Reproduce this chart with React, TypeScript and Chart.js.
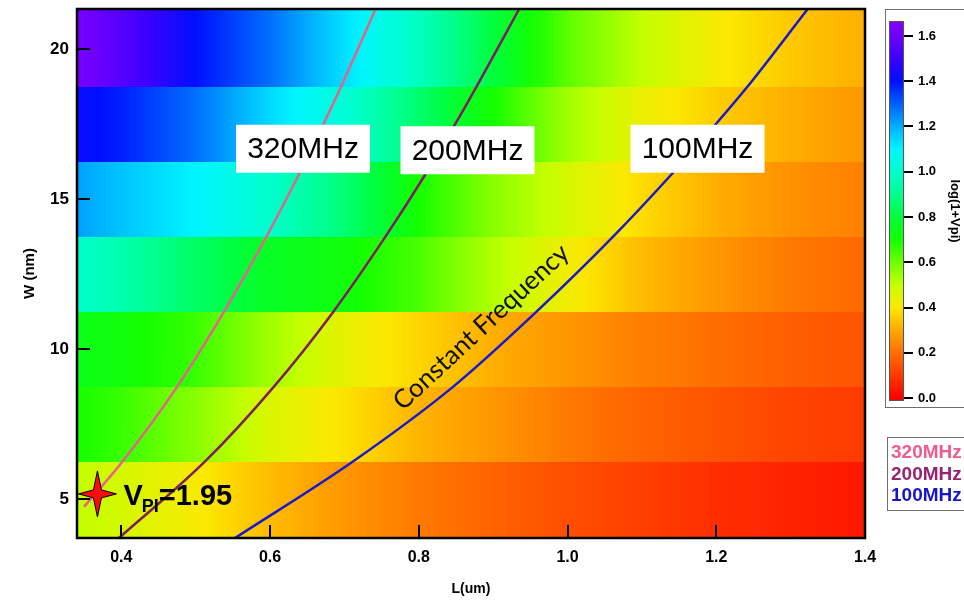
import React, { useEffect, useRef } from 'react';
import { Chart, registerables } from 'chart.js';

Chart.register(...registerables);

// ---------------- data ----------------
const L_GRID = [0.34, 0.4, 0.5, 0.6, 0.7, 0.8, 0.9, 1.0, 1.1, 1.2, 1.3, 1.4];
const W_ROWS = [20, 17.5, 15, 12.5, 10, 7.5, 5];
const VPI_W20 = [1.63, 1.55, 1.4, 1.28, 1.13, 0.98, 0.8, 0.62, 0.5, 0.41, 0.35, 0.31];
const VPI_W17_5 = [1.42, 1.38, 1.28, 1.14, 1.02, 0.86, 0.7, 0.54, 0.43, 0.36, 0.31, 0.27];
const VPI_W15 = [1.22, 1.17, 1.1, 1.0, 0.87, 0.7, 0.57, 0.47, 0.38, 0.31, 0.26, 0.23];
const VPI_W12_5 = [1.0, 0.95, 0.85, 0.76, 0.72, 0.64, 0.52, 0.42, 0.33, 0.27, 0.22, 0.19];
const VPI_W10 = [0.74, 0.72, 0.66, 0.54, 0.44, 0.37, 0.31, 0.27, 0.23, 0.2, 0.17, 0.15];
const VPI_W7_5 = [0.7, 0.66, 0.57, 0.46, 0.39, 0.32, 0.27, 0.22, 0.18, 0.15, 0.12, 0.1];
const VPI_W5 = [0.5, 0.47, 0.41, 0.33, 0.27, 0.22, 0.18, 0.14, 0.11, 0.08, 0.06, 0.04];
const VPI_ROWS = [VPI_W20, VPI_W17_5, VPI_W15, VPI_W12_5, VPI_W10, VPI_W7_5, VPI_W5];

const F320_L = [0.35, 0.402, 0.475, 0.538, 0.595, 0.639, 0.671, 0.695, 0.742];
const F320_W = [4.75, 6.27, 8.75, 11.25, 13.75, 15.84, 17.47, 18.73, 21.35];
const F200_L = [0.397, 0.513, 0.605, 0.685, 0.755, 0.809, 0.848, 0.877, 0.935];
const F200_W = [3.71, 6.27, 8.75, 11.25, 13.75, 15.84, 17.47, 18.73, 21.35];
const F100_L = [0.553, 0.712, 0.846, 0.958, 1.061, 1.14, 1.198, 1.241, 1.323];
const F100_W = [3.71, 6.27, 8.75, 11.25, 13.75, 15.84, 17.47, 18.73, 21.35];

const SERIES_LABELS = ['320MHz', '200MHz', '100MHz'];
const SERIES_L = [F320_L, F200_L, F100_L];
const SERIES_W = [F320_W, F200_W, F100_W];

const X_TICKS = [0.4, 0.6, 0.8, 1.0, 1.2, 1.4];
const Y_TICKS = [5, 10, 15, 20];
const CB_TICKS = [0, 0.2, 0.4, 0.6, 0.8, 1.0, 1.2, 1.4, 1.6];

const STAR_L = 0.368;
const STAR_W = 5.18;
const STAR_TEXT_MAIN = 'V';
const STAR_TEXT_SUB = 'PI';
const STAR_TEXT_VALUE = '=1.95';

// ---------------- styles ----------------
const LINE_COLORS = ['#E2648E', '#7C1F60', '#1A1ACC'];
const LEGEND_COLORS = ['#EC5C8E', '#982274', '#1616C8'];
const FONT = '"Liberation Sans", Arial, sans-serif';

const CMAP: [number, number[]][] = [
  [0.0, [255, 0, 0]],
  [0.1, [255, 58, 0]],
  [0.2, [255, 110, 0]],
  [0.3, [255, 168, 0]],
  [0.4, [252, 232, 0]],
  [0.5, [195, 255, 0]],
  [0.6, [110, 255, 0]],
  [0.7, [20, 255, 0]],
  [0.8, [0, 255, 60]],
  [0.9, [0, 255, 140]],
  [1.0, [0, 255, 205]],
  [1.1, [0, 245, 255]],
  [1.2, [0, 175, 255]],
  [1.3, [0, 95, 255]],
  [1.4, [0, 15, 255]],
  [1.5, [60, 0, 255]],
  [1.6, [110, 0, 255]],
  [1.7, [145, 0, 255]],
];

function cmap(v: number): string {
  if (v <= CMAP[0][0]) return `rgb(${CMAP[0][1].join(',')})`;
  for (let i = 0; i < CMAP.length - 1; i++) {
    const [v0, c0] = CMAP[i];
    const [v1, c1] = CMAP[i + 1];
    if (v <= v1) {
      const t = (v - v0) / (v1 - v0);
      const c = c0.map((c, k) => Math.round(c + t * (c1[k] - c)));
      return `rgb(${c.join(',')})`;
    }
  }
  return `rgb(${CMAP[CMAP.length - 1][1].join(',')})`;
}

// annotation placement (data coords of box centres)
const BOXES = [
  { text: '320MHz', L: 0.6444, W: 16.69 },
  { text: '200MHz', L: 0.8656, W: 16.64 },
  { text: '100MHz', L: 1.1748, W: 16.69 },
];
const CF_TEXT = { text: 'Constant Frequency', L: 0.884, W: 10.74, angle: -43 };

const heatmapPlugin = {
  id: 'heatmap',
  beforeDatasetsDraw(chart: any) {
    const { ctx, chartArea: a, scales } = chart;
    const x = scales.x;
    const y = scales.y;
    ctx.save();
    ctx.beginPath();
    ctx.rect(a.left, a.top, a.right - a.left, a.bottom - a.top);
    ctx.clip();
    const x0 = x.getPixelForValue(L_GRID[0]);
    const x1 = x.getPixelForValue(L_GRID[L_GRID.length - 1]);
    VPI_ROWS.forEach((vals, i) => {
      const w = W_ROWS[i];
      const upper = i === 0 ? y.max : (W_ROWS[i - 1] + w) / 2;
      const lower = i === W_ROWS.length - 1 ? y.min : (W_ROWS[i + 1] + w) / 2;
      const yTop = y.getPixelForValue(upper);
      const yBot = y.getPixelForValue(lower);
      const g = ctx.createLinearGradient(x0, 0, x1, 0);
      for (let j = 0; j < L_GRID.length - 1; j++) {
        for (let k = 0; k < 8; k++) {
          const t = k / 8;
          const L = L_GRID[j] + t * (L_GRID[j + 1] - L_GRID[j]);
          const v = vals[j] + t * (vals[j + 1] - vals[j]);
          const pos = (x.getPixelForValue(L) - x0) / (x1 - x0);
          g.addColorStop(Math.min(1, Math.max(0, pos)), cmap(v));
        }
      }
      g.addColorStop(1, cmap(vals[vals.length - 1]));
      ctx.fillStyle = g;
      const top = Math.round(Math.min(yTop, yBot));
      const bot = Math.round(Math.max(yTop, yBot));
      ctx.fillRect(a.left - 2, top, a.right - a.left + 4, bot - top + 1);
    });
    ctx.restore();
  },
};

const overlayPlugin = {
  id: 'overlay',
  afterDatasetsDraw(chart: any) {
    const { ctx, chartArea: a, scales } = chart;
    const x = scales.x;
    const y = scales.y;
    ctx.save();
    ctx.beginPath();
    ctx.rect(a.left, a.top, a.right - a.left, a.bottom - a.top);
    ctx.clip();

    // label boxes
    BOXES.forEach((b) => {
      const cx = x.getPixelForValue(b.L);
      const cy = y.getPixelForValue(b.W);
      ctx.fillStyle = '#ffffff';
      ctx.fillRect(cx - 67, cy - 24, 134, 48);
      ctx.fillStyle = '#000000';
      ctx.font = `30px ${FONT}`;
      ctx.textAlign = 'center';
      ctx.textBaseline = 'middle';
      ctx.fillText(b.text, cx, cy + 1);
    });

    // rotated "Constant Frequency"
    {
      const cx = x.getPixelForValue(CF_TEXT.L);
      const cy = y.getPixelForValue(CF_TEXT.W);
      ctx.save();
      ctx.translate(cx, cy);
      ctx.rotate((CF_TEXT.angle * Math.PI) / 180);
      ctx.font = `26px Lato, "Open Sans", sans-serif`;
      ctx.fillStyle = '#111111';
      ctx.textAlign = 'center';
      ctx.textBaseline = 'middle';
      ctx.fillText(CF_TEXT.text, 0, 0);
      ctx.restore();
    }

    // star
    const sx = x.getPixelForValue(STAR_L);
    const sy = y.getPixelForValue(STAR_W);
    ctx.beginPath();
    ctx.moveTo(sx, sy - 23);
    ctx.lineTo(sx + 4, sy - 4);
    ctx.lineTo(sx + 19, sy);
    ctx.lineTo(sx + 4, sy + 4);
    ctx.lineTo(sx, sy + 23);
    ctx.lineTo(sx - 4, sy + 4);
    ctx.lineTo(sx - 19, sy);
    ctx.lineTo(sx - 4, sy - 4);
    ctx.closePath();
    ctx.fillStyle = '#FF0A0A';
    ctx.fill();
    ctx.lineWidth = 1;
    ctx.strokeStyle = '#000000';
    ctx.stroke();

    // V_PI = 1.95
    ctx.fillStyle = '#000000';
    ctx.textAlign = 'left';
    ctx.textBaseline = 'alphabetic';
    let tx = sx + 26;
    ctx.font = `bold 29px ${FONT}`;
    ctx.fillText(STAR_TEXT_MAIN, tx, sy + 11);
    tx += ctx.measureText(STAR_TEXT_MAIN).width - 1;
    ctx.font = `bold 18px ${FONT}`;
    ctx.fillText(STAR_TEXT_SUB, tx, sy + 18);
    tx += ctx.measureText(STAR_TEXT_SUB).width;
    ctx.font = `bold 29px ${FONT}`;
    ctx.fillText(STAR_TEXT_VALUE, tx, sy + 11);

    ctx.restore();
  },
  afterDraw(chart: any) {
    const { ctx, chartArea: a, scales } = chart;
    ctx.save();
    ctx.strokeStyle = '#000000';
    ctx.lineWidth = 2;
    // inward tick marks
    scales.x.ticks.forEach((t: any) => {
      const px = Math.round(scales.x.getPixelForValue(t.value));
      ctx.beginPath();
      ctx.moveTo(px, a.bottom);
      ctx.lineTo(px, a.bottom - 13);
      ctx.stroke();
    });
    scales.y.ticks.forEach((t: any) => {
      const py = Math.round(scales.y.getPixelForValue(t.value));
      ctx.beginPath();
      ctx.moveTo(a.left, py);
      ctx.lineTo(a.left + 13, py);
      ctx.stroke();
    });
    // frame
    ctx.lineWidth = 2.5;
    ctx.strokeRect(a.left, a.top, a.right - a.left, a.bottom - a.top);
    ctx.restore();
  },
};

const colorbarPlugin = {
  id: 'colorbar',
  beforeDraw(chart: any) {
    const { ctx } = chart;
    ctx.save();
    ctx.strokeStyle = '#6e6e6e';
    ctx.lineWidth = 1;
    ctx.strokeRect(5.5, 9.5, 120, 398);
    // legend box
    ctx.strokeRect(7.5, 437.5, 120, 73);
    ctx.font = `bold 19px ${FONT}`;
    ctx.textAlign = 'left';
    ctx.textBaseline = 'middle';
    SERIES_LABELS.forEach((lab, i) => {
      ctx.fillStyle = LEGEND_COLORS[i];
      ctx.fillText(lab, 11, 453 + i * 21.5);
    });
    ctx.restore();
  },
  beforeDatasetsDraw(chart: any) {
    const { ctx, chartArea: a, scales } = chart;
    const y = scales.y;
    ctx.save();
    const yb = y.getPixelForValue(y.min);
    const yt = y.getPixelForValue(y.max);
    const g = ctx.createLinearGradient(0, yb, 0, yt);
    CMAP.forEach(([v]) => {
      const p = (y.getPixelForValue(v) - yb) / (yt - yb);
      if (p >= 0 && p <= 1) g.addColorStop(p, cmap(v));
    });
    g.addColorStop(0, cmap(y.min));
    g.addColorStop(1, cmap(y.max));
    ctx.fillStyle = g;
    ctx.fillRect(a.left, a.top, a.right - a.left, a.bottom - a.top);
    ctx.strokeStyle = '#555555';
    ctx.lineWidth = 1;
    ctx.strokeRect(a.left + 0.5, a.top + 0.5, a.right - a.left - 1, a.bottom - a.top - 1);
    ctx.restore();
  },
};

export default function App() {
  const mainRef = useRef<HTMLCanvasElement>(null);
  const cbRef = useRef<HTMLCanvasElement>(null);

  useEffect(() => {
    const tickFont = { family: FONT, size: 16, weight: 'bold' as const };
    const main = new Chart(mainRef.current as HTMLCanvasElement, {
      type: 'scatter',
      data: {
        datasets: SERIES_LABELS.map((label, i) => ({
          label,
          data: SERIES_L[i].map((l, j) => ({ x: l, y: SERIES_W[i][j] })),
          showLine: true,
          borderColor: LINE_COLORS[i],
          backgroundColor: LINE_COLORS[i],
          borderWidth: 2.5,
          pointRadius: 0,
          cubicInterpolationMode: 'monotone' as const,
          fill: false,
        })),
      },
      options: {
        animation: false,
        responsive: false,
        maintainAspectRatio: false,
        layout: { padding: { top: 9, right: 15, left: 0, bottom: 0 } },
        plugins: { legend: { display: false }, tooltip: { enabled: false } },
        scales: {
          x: {
            type: 'linear',
            min: 0.3405,
            max: 1.4,
            afterBuildTicks: (s: any) => {
              s.ticks = X_TICKS.map((v) => ({ value: v }));
            },
            afterFit: (s: any) => {
              s.height = 63;
              s.paddingLeft = 0;
              s.paddingRight = 0;
            },
            grid: { display: false, drawTicks: false },
            border: { display: false },
            ticks: {
              padding: 10,
              color: '#000',
              font: tickFont,
              maxRotation: 0,
              autoSkip: false,
              callback: (v: any) => Number(v).toFixed(1),
            },
            title: {
              display: true,
              text: 'L(um)',
              color: '#000',
              font: { family: FONT, size: 14, weight: 'bold' },
              padding: { top: 0, bottom: 3 },
            },
          },
          y: {
            type: 'linear',
            min: 3.71,
            max: 21.35,
            afterBuildTicks: (s: any) => {
              s.ticks = Y_TICKS.map((v) => ({ value: v }));
            },
            afterFit: (s: any) => {
              s.width = 77;
              s.paddingTop = 0;
              s.paddingBottom = 0;
            },
            grid: { display: false, drawTicks: false },
            border: { display: false },
            ticks: {
              padding: 8,
              color: '#000',
              font: { family: FONT, size: 17, weight: 'bold' },
              autoSkip: false,
              callback: (v: any) => String(v),
            },
            title: {
              display: true,
              text: 'W (nm)',
              color: '#000',
              font: { family: FONT, size: 15, weight: 'bold' },
              padding: { top: 21, bottom: 0 },
            },
          },
        },
      },
      plugins: [heatmapPlugin, overlayPlugin],
    } as any);

    const cb = new Chart(cbRef.current as HTMLCanvasElement, {
      type: 'scatter',
      data: { datasets: [{ data: [], pointRadius: 0 }] },
      options: {
        animation: false,
        responsive: false,
        maintainAspectRatio: false,
        layout: { padding: { top: 21, left: 9, right: 0, bottom: 200 } },
        plugins: { legend: { display: false }, tooltip: { enabled: false } },
        scales: {
          x: { display: false, min: 0, max: 1 },
          y: {
            type: 'linear',
            position: 'right',
            min: -0.013,
            max: 1.666,
            afterBuildTicks: (s: any) => {
              s.ticks = CB_TICKS.map((v) => ({ value: v }));
            },
            afterFit: (s: any) => {
              s.width = 60;
              s.paddingTop = 0;
              s.paddingBottom = 0;
            },
            grid: {
              display: true,
              drawOnChartArea: false,
              drawTicks: true,
              tickLength: 9,
              color: '#000',
              lineWidth: 2,
            },
            border: { display: false },
            ticks: {
              padding: 5,
              color: '#000',
              font: { family: FONT, size: 13, weight: 'bold' },
              autoSkip: false,
              callback: (v: any) => Number(v).toFixed(1),
            },
            title: {
              display: true,
              text: 'log(1+Vpi)',
              color: '#000',
              font: { family: FONT, size: 13, weight: 'bold' },
              padding: { top: 2, bottom: 0 },
            },
          },
        },
      },
      plugins: [colorbarPlugin],
    } as any);

    return () => {
      main.destroy();
      cb.destroy();
    };
  }, []);

  return (
    <div
      style={{
        position: 'fixed',
        left: 0,
        top: 0,
        width: 964,
        height: 601,
        background: '#ffffff',
        overflow: 'hidden',
      }}
    >
      <canvas
        ref={mainRef}
        width={880}
        height={601}
        style={{ position: 'absolute', left: 0, top: 0, width: 880, height: 601 }}
      />
      <canvas
        ref={cbRef}
        width={84}
        height={601}
        style={{ position: 'absolute', left: 880, top: 0, width: 84, height: 601 }}
      />
    </div>
  );
}
